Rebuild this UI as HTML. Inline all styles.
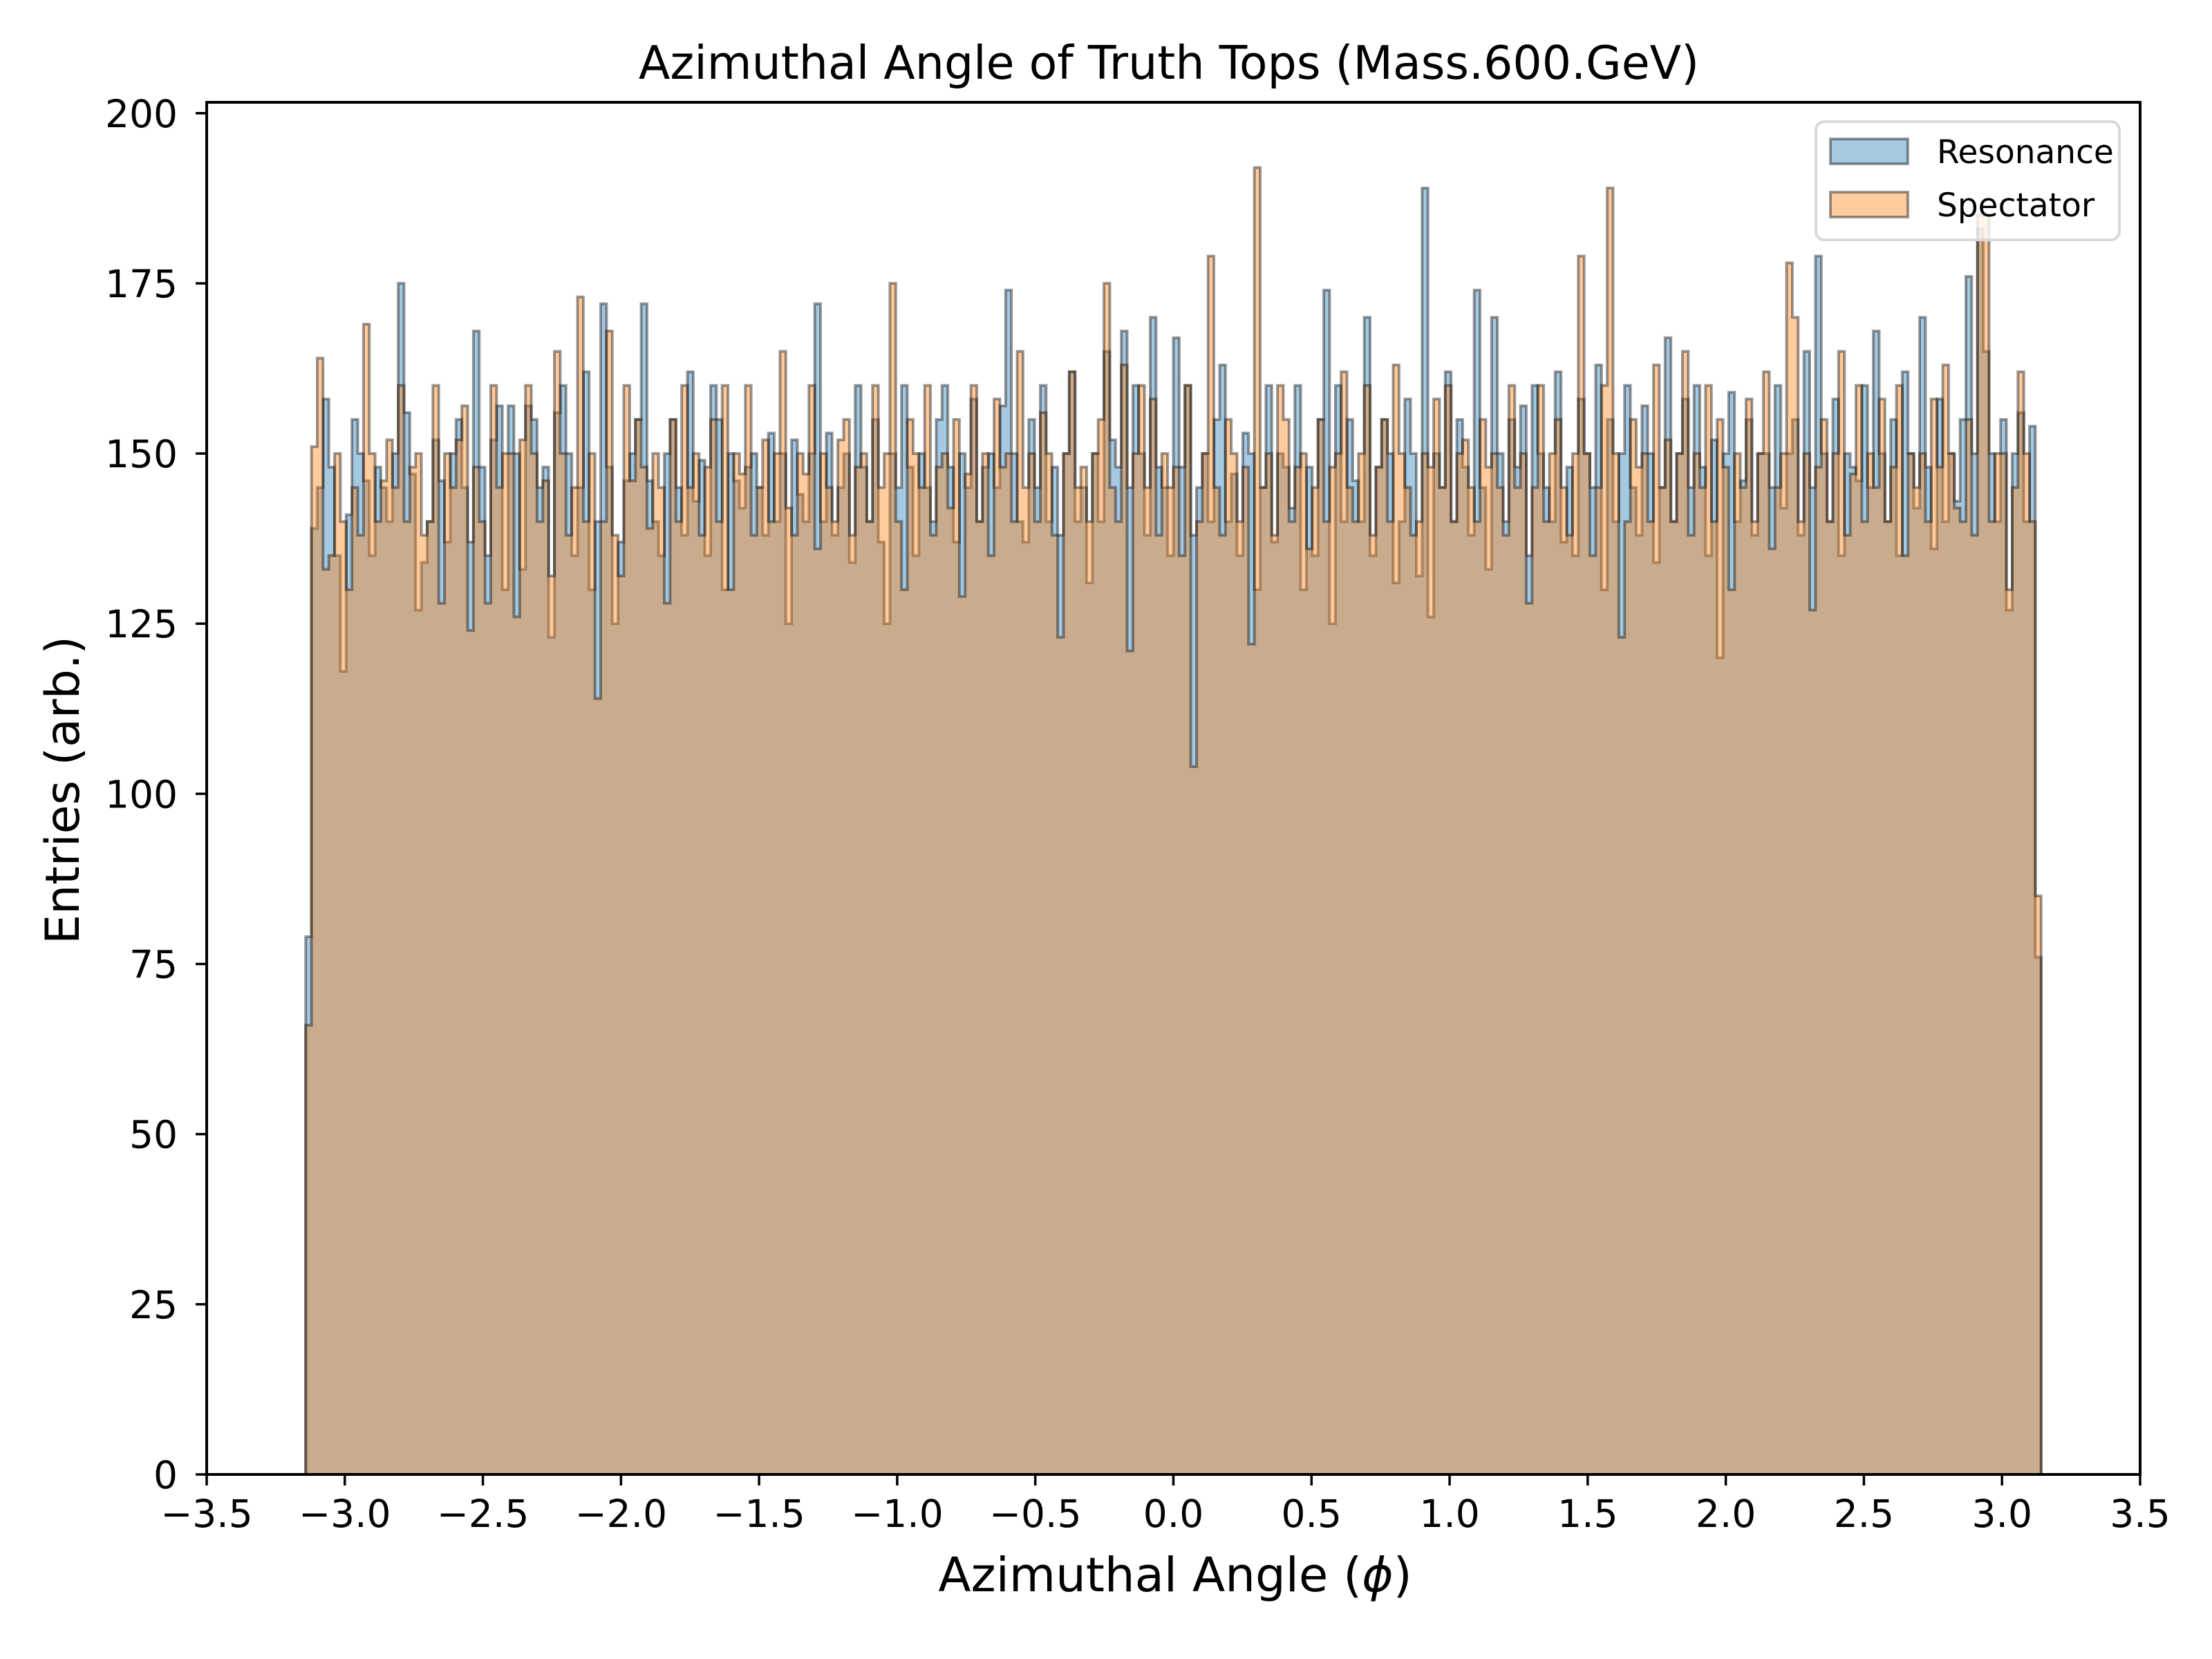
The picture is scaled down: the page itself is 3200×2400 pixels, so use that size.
<!DOCTYPE html>
<html><head><meta charset="utf-8">
<style>
html,body{margin:0;padding:0;background:#fff;}
svg{display:block;}
text{font-family:"DejaVu Sans","Liberation Sans",sans-serif;fill:#000;}
</style></head>
<body>
<svg id="chart" width="3200" height="2400" viewBox="0 0 3200 2400" xmlns="http://www.w3.org/2000/svg">
<rect x="0" y="0" width="3200" height="2400" fill="#fff"/>
<g id="bars"></g>
<g id="axes"></g>
<text x="1691" y="114" font-size="66.5" text-anchor="middle">Azimuthal Angle of Truth Tops (Mass.600.GeV)</text>
<text x="1700" y="2302" font-size="69" text-anchor="middle">Azimuthal Angle (<tspan font-style="italic">ϕ</tspan>)</text>
<text x="0" y="0" font-size="68" text-anchor="middle" transform="translate(114,1143) rotate(-90)">Entries (arb.)</text>
<g>
<rect x="2627" y="176" width="439" height="171" rx="12" fill="#fff" fill-opacity="0.8" stroke="#d9d9d9" stroke-width="4"/>
<rect x="2648" y="201" width="112" height="36" fill="#1f77b4" fill-opacity="0.4" stroke="#000" stroke-opacity="0.4" stroke-width="4"/>
<text x="2802" y="236" font-size="47" font-family="Liberation Sans, sans-serif">Resonance</text>
<rect x="2648" y="278" width="112" height="36" fill="#ff7f0e" fill-opacity="0.4" stroke="#000" stroke-opacity="0.4" stroke-width="4"/>
<text x="2802" y="313" font-size="47" font-family="Liberation Sans, sans-serif">Spectator</text>
</g>
</svg>
<script>
const resonance = [
79,139,145,158,148,135,118,141,155,150,146,135,148,145,140,150,175,156,147,127,134,140,152,146,137,150,155,145,137,168,
148,135,152,157,130,157,150,133,157,155,145,148,123,156,160,150,135,145,162,130,140,172,148,125,137,146,150,155,172,146,
140,135,150,155,145,138,162,143,149,135,160,155,130,150,146,142,148,150,145,138,153,140,150,125,152,144,140,150,172,140,
153,138,145,150,134,160,148,140,155,137,125,150,145,160,148,135,150,145,140,155,160,148,137,150,145,158,140,148,150,145,
157,174,150,140,137,155,145,160,140,148,138,150,162,140,145,131,150,140,165,152,148,168,145,160,150,138,170,148,145,135,
167,148,160,138,145,150,140,155,163,140,147,135,153,150,130,145,160,137,150,148,142,160,130,148,135,155,174,125,160,140,
155,146,140,170,135,148,155,150,131,140,158,150,132,189,126,150,145,162,140,155,148,138,174,145,133,170,150,140,155,148,
157,135,160,150,145,140,162,137,148,135,158,150,145,163,130,155,140,150,160,145,138,157,150,134,145,167,140,150,158,145,
160,148,135,152,120,150,159,140,146,155,138,150,150,145,160,142,150,155,138,165,145,179,150,140,158,135,150,148,146,160,
145,168,150,140,155,135,162,150,142,170,148,136,158,140,150,143,155,176,150,183,165,150,140,155,127,150,156,140,154,76];
const spectator = [
66,151,164,133,135,150,140,130,145,138,169,150,140,146,152,145,160,140,148,150,138,140,160,128,150,145,152,157,124,148,
140,128,160,145,150,150,126,152,160,150,140,146,132,165,150,138,145,173,140,150,114,140,168,138,132,160,146,155,148,139,
150,145,128,155,140,160,145,150,138,148,155,140,160,130,150,147,160,138,145,152,140,150,165,142,138,150,147,160,136,150,
145,140,152,155,138,148,150,140,160,145,150,175,140,130,155,150,145,160,138,148,150,142,155,129,147,160,140,150,135,158,
148,150,140,165,145,150,140,156,150,138,123,150,162,145,148,140,150,155,175,145,140,163,121,150,160,145,158,138,150,145,
148,135,160,104,140,150,179,145,138,155,150,140,148,122,192,145,150,138,160,155,140,148,150,136,145,155,140,148,150,162,
145,140,150,160,138,148,155,140,163,150,145,138,140,150,148,158,145,160,140,150,152,145,140,155,148,150,145,138,160,145,
150,128,145,160,140,150,155,145,138,150,179,150,135,145,160,189,150,123,140,155,148,150,140,163,145,152,140,150,165,138,
150,145,160,140,155,148,130,150,145,158,140,150,162,136,145,150,178,170,140,150,127,148,155,140,150,165,138,147,160,140,
150,145,158,140,148,160,135,150,145,150,140,158,148,163,150,142,140,155,138,185,185,140,150,150,130,145,162,150,140,85];
const xTicks = [-3.5,-3.0,-2.5,-2.0,-1.5,-1.0,-0.5,0.0,0.5,1.0,1.5,2.0,2.5,3.0,3.5];
const yTicks = [0,25,50,75,100,125,150,175,200];
const binRange = [-Math.PI, Math.PI];

const NS = 'http://www.w3.org/2000/svg';
const L = 299, R = 3096, T = 148, B = 2133;
const xMin = -3.5, xMax = 3.5, yMin = 0, yMax = 201.6;
function xs(v){ return L + (v - xMin) / (xMax - xMin) * (R - L); }
function ys(v){ return B - (v - yMin) / (yMax - yMin) * (B - T); }

function histPath(vals){
  const n = vals.length, w = (binRange[1] - binRange[0]) / n;
  let d = 'M' + xs(binRange[0]).toFixed(2) + ' ' + ys(0).toFixed(2);
  for (let i = 0; i < n; i++){
    const x0 = xs(binRange[0] + i * w), x1 = xs(binRange[0] + (i + 1) * w), y = ys(vals[i]);
    d += ' L' + x0.toFixed(2) + ' ' + y.toFixed(2) + ' L' + x1.toFixed(2) + ' ' + y.toFixed(2);
  }
  d += ' L' + xs(binRange[1]).toFixed(2) + ' ' + ys(0).toFixed(2) + ' Z';
  return d;
}
const bars = document.getElementById('bars');
function addSeries(vals, color, name){
  const p = document.createElementNS(NS, 'path');
  p.setAttribute('d', histPath(vals));
  p.setAttribute('fill', color);
  p.setAttribute('fill-opacity', '0.4');
  p.setAttribute('stroke', '#000');
  p.setAttribute('stroke-opacity', '0.4');
  p.setAttribute('stroke-width', '4');
  p.setAttribute('stroke-linejoin', 'miter');
  
  
  bars.appendChild(p);
}
addSeries(resonance, '#1f77b4', 'resonance-histogram');
addSeries(spectator, '#ff7f0e', 'spectator-histogram');

const axes = document.getElementById('axes');
const frame = document.createElementNS(NS, 'rect');
frame.setAttribute('x', L); frame.setAttribute('y', T);
frame.setAttribute('width', R - L); frame.setAttribute('height', B - T);
frame.setAttribute('fill', 'none'); frame.setAttribute('stroke', '#000'); frame.setAttribute('stroke-width', '4');


axes.appendChild(frame);

xTicks.forEach(function(v){
  const x = xs(v);
  const t = document.createElementNS(NS, 'line');
  t.setAttribute('x1', x); t.setAttribute('x2', x); t.setAttribute('y1', B); t.setAttribute('y2', B + 16);
  t.setAttribute('stroke', '#000'); t.setAttribute('stroke-width', '3.5');
  
  
  axes.appendChild(t);
  const lb = document.createElementNS(NS, 'text');
  lb.setAttribute('x', x); lb.setAttribute('y', B + 76);
  lb.setAttribute('font-size', '55'); lb.setAttribute('text-anchor', 'middle');
  lb.textContent = (v < 0 ? '\u2212' : '') + Math.abs(v).toFixed(1);
  
  
  axes.appendChild(lb);
});
yTicks.forEach(function(v){
  const y = ys(v);
  const t = document.createElementNS(NS, 'line');
  t.setAttribute('x1', L - 16); t.setAttribute('x2', L); t.setAttribute('y1', y); t.setAttribute('y2', y);
  t.setAttribute('stroke', '#000'); t.setAttribute('stroke-width', '3.5');
  
  
  axes.appendChild(t);
  const lb = document.createElementNS(NS, 'text');
  lb.setAttribute('x', L - 42); lb.setAttribute('y', y + 20);
  lb.setAttribute('font-size', '55'); lb.setAttribute('text-anchor', 'end');
  lb.textContent = String(v);
  
  
  axes.appendChild(lb);
});
</script>
</body></html>
